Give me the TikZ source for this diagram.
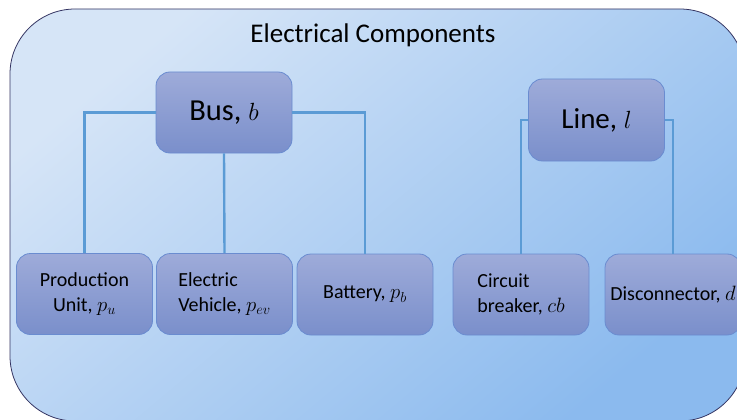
\documentclass[tikz,border=0pt]{standalone}
\usepackage{fontspec}
\setmainfont{Carlito}
\definecolor{panellight}{HTML}{D6E5F7}
\definecolor{paneldark}{HTML}{8BBAEE}
\definecolor{boxtop}{HTML}{9EABD9}
\definecolor{boxbottom}{HTML}{7A8FCB}
\definecolor{boxedge}{HTML}{6A8CD0}
\definecolor{wirecol}{HTML}{5B9BD5}
\begin{document}
\begin{tikzpicture}[x=1pt,y=-1pt,
  comp/.style={draw=boxedge, line width=0.8pt, rounded corners=14pt, top color=boxtop, bottom color=boxbottom,
    minimum width=136pt, minimum height=81pt, inner sep=0pt, font=\fontsize{20}{25}\selectfont},
  head/.style={comp, font=\fontsize{30.5}{34}\selectfont},
  wire/.style={wirecol, line width=2.4pt}]
  \useasboundingbox (0,0) rectangle (737,420);
  % panel
  \path[draw=black!70!blue!60!gray, line width=0.8pt, rounded corners=65pt, top color=panellight, bottom color=paneldark, shading angle=40]
    (10,9) rectangle (745,421);
  \node[font=\fontsize{27}{30}\selectfont] (title) at (373,35) {Electrical Components};
  % top level
  \node[head] (bus) at (224,112.5) {Bus, $b$};
  \node[head, minimum height=82pt, font=\fontsize{29}{34}\selectfont] (line) at (596.5,120) {Line, $l$};
  % components
  \node[comp, align=center] (pu) at (84.5,294) {Production\\Unit, $p_u$};
  \node[comp, align=left] (ev) at (224.5,294) {Electric\\Vehicle, $p_{ev}$};
  \node[comp] (bat) at (365,294.5) {Battery, $p_b$};
  \node[comp, align=left] (cb) at (521,294.5) {Circuit\\breaker, $cb$};
  \node[comp] (dis) at (673,294.5) {Disconnector, $d$};
  % wires
  \draw[wire] (bus.west) -| (pu.north);
  \draw[wire] (bus.south) -- (ev.north);
  \draw[wire] (bus.east) -| (bat.north);
  \draw[wire] (line.west) -| (cb.north);
  \draw[wire] (line.east) -| (dis.north);
\end{tikzpicture}
\end{document}
